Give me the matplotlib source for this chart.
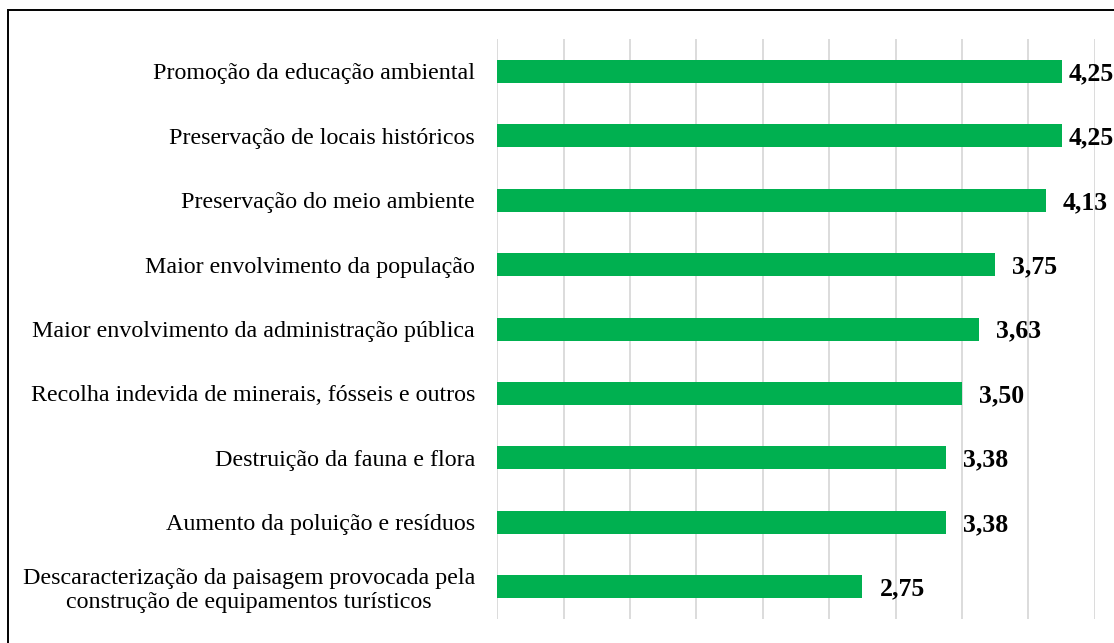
import numpy as np
import matplotlib.pyplot as plt
from matplotlib.patches import Rectangle

categorias = [
    "Promoção da educação ambiental",
    "Preservação de locais históricos",
    "Preservação do meio ambiente",
    "Maior envolvimento da população",
    "Maior envolvimento da administração pública",
    "Recolha indevida de minerais, fósseis e outros",
    "Destruição da fauna e flora",
    "Aumento da poluição e resíduos",
    "Descaracterização da paisagem provocada pela\nconstrução de equipamentos turísticos",
]
valores = [4.25, 4.25, 4.13, 3.75, 3.63, 3.50, 3.38, 3.38, 2.75]
rotulos = ["4,25", "4,25", "4,13", "3,75", "3,63", "3,50", "3,38", "3,38", "2,75"]

fig = plt.figure(figsize=(11.14, 6.43), dpi=100)
ax = fig.add_axes([0.4464, 0.0373, 0.5363, 0.902])

y = np.arange(len(categorias))
ax.barh(y, valores, height=0.357, color="#00B050", zorder=3)

ax.set_xlim(0, 4.5)
ax.set_ylim(len(categorias) - 0.5, -0.5)
ax.set_xticks(np.arange(0, 4.51, 0.5))
ax.set_xticklabels([])
ax.grid(axis="x", color="#D9D9D9", linewidth=1.3, zorder=0)
ax.tick_params(axis="both", length=0)
ax.tick_params(axis="y", pad=16)
ax.set_yticks(y)
ax.set_yticklabels(categorias, fontsize=17.3, family="Liberation Serif",
                   multialignment="center")
for s in ax.spines.values():
    s.set_visible(False)

for i, (v, r) in enumerate(zip(valores, rotulos)):
    ax.text(min(v + 0.13, 4.30), i + 0.135, r, va="baseline", ha="left",
            fontsize=18.5, fontweight="bold", family="Liberation Serif",
            clip_on=False)

# moldura
fig.patches.append(Rectangle((8 / 1114, -0.1), 2, 1.1 - 10 / 643,
                             transform=fig.transFigure, fill=False,
                             edgecolor="black", linewidth=1.4))

fig.savefig("out.png", dpi=100)
